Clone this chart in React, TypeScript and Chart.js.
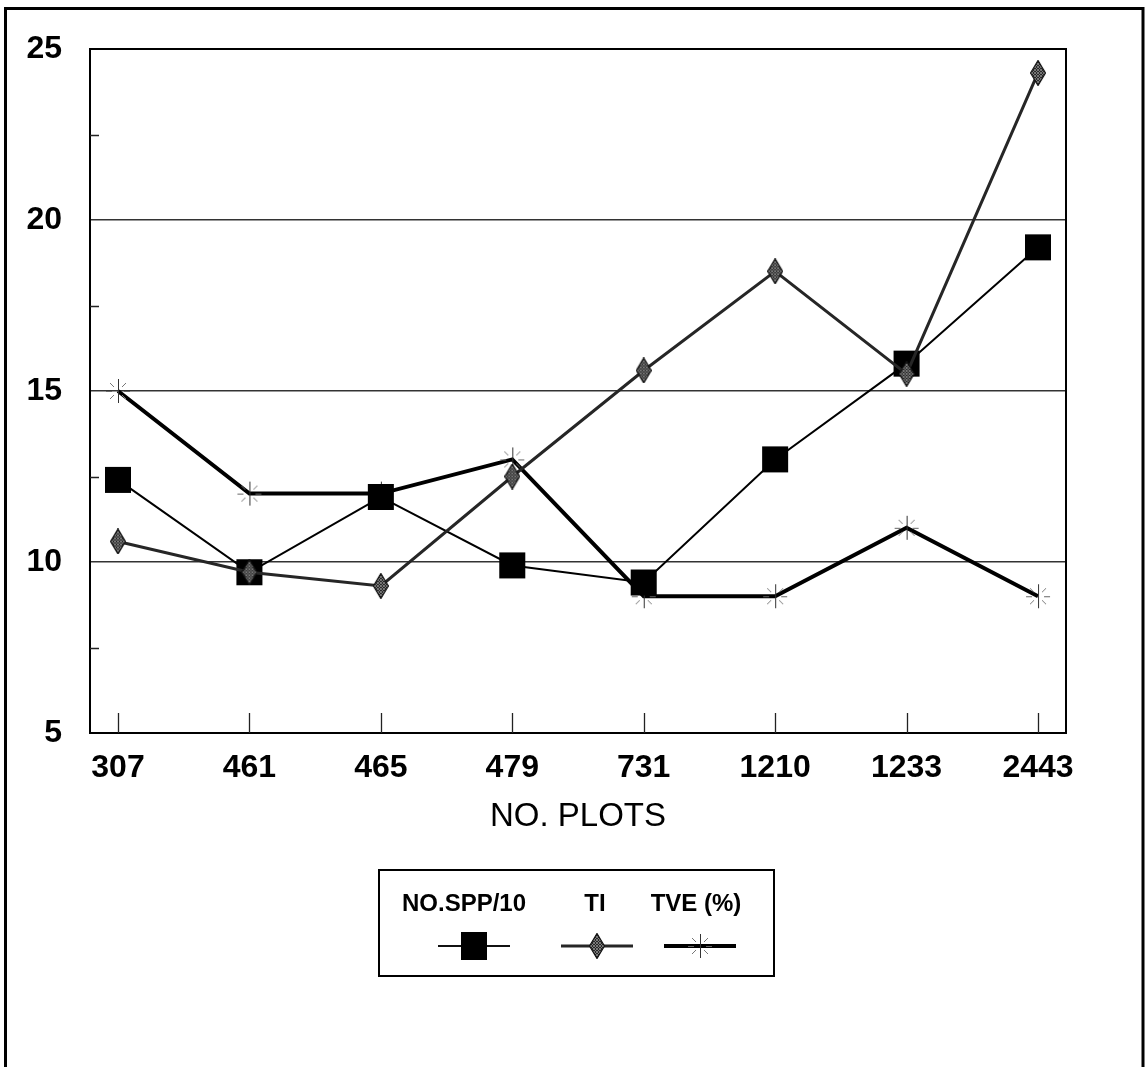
import React, { useEffect, useRef } from 'react';
import { Chart, registerables } from 'chart.js';

Chart.register(...registerables);

const categories = ['307', '461', '465', '479', '731', '1210', '1233', '2443'];
const sppValues = [12.4, 9.7, 11.9, 9.9, 9.4, 13.0, 15.8, 19.2];
const tiValues = [10.6, 9.7, 9.3, 12.5, 15.6, 18.5, 15.5, 24.3];
const tveValues = [15, 12, 12, 13, 9, 9, 11, 9];
const seriesNames = ['NO.SPP/10', 'TI', 'TVE (%)'];
const xTitle = 'NO. PLOTS';
const yMin = 5;
const yMax = 25;
const yMajorStep = 5;
const yMinorTicks = [7.5, 12.5, 17.5, 22.5];

const FONT = "'Liberation Sans', Arial, Helvetica, sans-serif";

function makeDiamond(): HTMLCanvasElement {
  const w = 16;
  const h = 26;
  const c = document.createElement('canvas');
  c.width = w;
  c.height = h;
  const g = c.getContext('2d')!;
  const path = () => {
    g.beginPath();
    g.moveTo(w / 2, 0.5);
    g.lineTo(w - 0.5, h / 2);
    g.lineTo(w / 2, h - 0.5);
    g.lineTo(0.5, h / 2);
    g.closePath();
  };
  path();
  g.fillStyle = '#262626';
  g.fill();
  g.save();
  path();
  g.clip();
  g.strokeStyle = '#8c8c8c';
  g.lineWidth = 0.8;
  for (let i = -h; i < w + h; i += 3) {
    g.beginPath();
    g.moveTo(i, 0);
    g.lineTo(i + h, h);
    g.stroke();
    g.beginPath();
    g.moveTo(i, h);
    g.lineTo(i + h, 0);
    g.stroke();
  }
  g.restore();
  path();
  g.strokeStyle = '#111';
  g.lineWidth = 1.2;
  g.stroke();
  return c;
}

function makeStar(): HTMLCanvasElement {
  const s = 28;
  const c = document.createElement('canvas');
  c.width = s;
  c.height = s;
  const g = c.getContext('2d')!;
  const m = s / 2;
  g.strokeStyle = '#333';
  g.lineWidth = 1;
  g.beginPath();
  g.moveTo(m + 0.5, 2);
  g.lineTo(m + 0.5, s - 2);
  g.stroke();
  g.strokeStyle = '#666';
  g.beginPath();
  g.moveTo(2, m + 0.5);
  g.lineTo(8, m + 0.5);
  g.moveTo(s - 8, m + 0.5);
  g.lineTo(s - 2, m + 0.5);
  g.stroke();
  const dirs = [
    [1, 1],
    [1, -1],
    [-1, 1],
    [-1, -1],
  ];
  g.strokeStyle = '#777';
  for (const [dx, dy] of dirs) {
    g.beginPath();
    g.moveTo(m + dx * 4, m + dy * 4);
    g.lineTo(m + dx * 8, m + dy * 8);
    g.stroke();
  }
  return c;
}

export default function App() {
  const canvasRef = useRef<HTMLCanvasElement | null>(null);

  useEffect(() => {
    const canvas = canvasRef.current;
    if (!canvas) return;
    const diamond = makeDiamond();
    const star = makeStar();

    const decor = {
      id: 'decor',
      beforeDraw(chart: any) {
        const ctx = chart.ctx;
        ctx.save();
        ctx.fillStyle = '#ffffff';
        ctx.fillRect(0, 0, chart.width, chart.height);
        ctx.strokeStyle = '#000';
        ctx.lineWidth = 3;
        ctx.beginPath();
        ctx.moveTo(5.5, chart.height + 5);
        ctx.lineTo(5.5, 8.5);
        ctx.lineTo(1143, 8.5);
        ctx.lineTo(1143, chart.height + 5);
        ctx.stroke();
        ctx.restore();
      },
      beforeDatasetsDraw(chart: any) {
        const ctx = chart.ctx;
        const { left, right, top, bottom } = chart.chartArea;
        const xs = chart.scales.x;
        const ys = chart.scales.y;
        ctx.save();
        ctx.strokeStyle = '#000';
        ctx.lineWidth = 2;
        ctx.beginPath();
        ctx.moveTo(left, top);
        ctx.lineTo(right, top);
        ctx.lineTo(right, bottom);
        ctx.stroke();
        ctx.lineWidth = 1.3;
        ctx.strokeStyle = '#222';
        ctx.beginPath();
        categories.forEach((_, i) => {
          const px = Math.round(xs.getPixelForValue(i)) + 0.5;
          ctx.moveTo(px, bottom);
          ctx.lineTo(px, bottom - 20);
        });
        yMinorTicks.forEach((v) => {
          const py = Math.round(ys.getPixelForValue(v)) + 0.5;
          ctx.moveTo(left, py);
          ctx.lineTo(left + 9, py);
        });
        ctx.stroke();
        ctx.restore();
      },
      afterDraw(chart: any) {
        const ctx = chart.ctx;
        ctx.save();
        ctx.strokeStyle = '#000';
        ctx.lineWidth = 2;
        ctx.strokeRect(379, 870, 395, 106);
        ctx.fillStyle = '#000';
        ctx.font = `bold 24px ${FONT}`;
        ctx.textAlign = 'center';
        ctx.textBaseline = 'middle';
        const centers = [464, 595, 696];
        const sampleCenters = [474, 597, 700];
        seriesNames.forEach((n, i) => ctx.fillText(n, centers[i], 904));
        const ly = 946;
        ctx.strokeStyle = '#111';
        ctx.lineWidth = 2;
        ctx.beginPath();
        ctx.moveTo(sampleCenters[0] - 36, ly);
        ctx.lineTo(sampleCenters[0] + 36, ly);
        ctx.stroke();
        ctx.fillRect(sampleCenters[0] - 13, ly - 14, 26, 28);
        ctx.strokeStyle = '#262626';
        ctx.lineWidth = 3;
        ctx.beginPath();
        ctx.moveTo(sampleCenters[1] - 36, ly);
        ctx.lineTo(sampleCenters[1] + 36, ly);
        ctx.stroke();
        ctx.drawImage(diamond, sampleCenters[1] - diamond.width / 2, ly - diamond.height / 2);
        ctx.strokeStyle = '#000';
        ctx.lineWidth = 4;
        ctx.beginPath();
        ctx.moveTo(sampleCenters[2] - 36, ly);
        ctx.lineTo(sampleCenters[2] + 36, ly);
        ctx.stroke();
        ctx.drawImage(star, sampleCenters[2] - star.width / 2, ly - star.height / 2);
        ctx.restore();
      },
    };

    const toPts = (arr: number[]) => arr.map((y, i) => ({ x: i, y }));

    const chart = new Chart(canvas, {
      type: 'line',
      data: {
        datasets: [
          {
            label: seriesNames[0],
            data: toPts(sppValues),
            borderColor: '#000',
            borderWidth: 2,
            backgroundColor: '#000',
            pointStyle: 'rect',
            pointRadius: 18.4,
            pointBorderWidth: 0,
            pointBackgroundColor: '#000',
            tension: 0,
            order: 1,
          },
          {
            label: seriesNames[1],
            data: toPts(tiValues),
            borderColor: '#262626',
            borderWidth: 3,
            pointStyle: diamond as any,
            pointRadius: 13,
            tension: 0,
            order: 0,
          },
          {
            label: seriesNames[2],
            data: toPts(tveValues),
            borderColor: '#000',
            borderWidth: 4,
            pointStyle: star as any,
            pointRadius: 14,
            tension: 0,
            order: 2,
          },
        ],
      },
      options: {
        responsive: false,
        animation: false,
        layout: { padding: { left: 0, top: 49, right: 79, bottom: 230 } },
        plugins: {
          legend: { display: false },
          tooltip: { enabled: false },
        },
        scales: {
          x: {
            type: 'linear',
            min: -0.213,
            max: 7.213,
            afterFit: (s: any) => {
              s.height = 104;
            },
            ticks: {
              stepSize: 1,
              includeBounds: false,
              autoSkip: false,
              maxRotation: 0,
              padding: 16,
              color: '#000',
              font: { family: FONT, size: 32, weight: 'bold' },
              callback: (v: any) => {
                const i = Math.round(Number(v));
                return Math.abs(Number(v) - i) < 1e-6 && categories[i] !== undefined ? categories[i] : '';
              },
            },
            grid: { display: false, drawTicks: false },
            border: { display: true, color: '#000', width: 2 },
            title: {
              display: true,
              text: xTitle,
              color: '#000',
              font: { family: FONT, size: 33, weight: 'normal' },
              padding: { top: 0, bottom: 0 },
            },
          },
          y: {
            min: yMin,
            max: yMax,
            afterFit: (s: any) => {
              s.width = 90;
            },
            ticks: {
              stepSize: yMajorStep,
              padding: 28,
              color: '#000',
              font: { family: FONT, size: 32, weight: 'bold' },
            },
            grid: {
              drawTicks: false,
              color: (c: any) => {
                const v = c.tick ? c.tick.value : NaN;
                return v === yMin || v === yMax ? 'rgba(0,0,0,0)' : '#333';
              },
              lineWidth: 1.5,
            },
            border: { display: true, color: '#000', width: 2 },
          },
        },
      },
      plugins: [decor],
    });

    return () => chart.destroy();
  }, []);

  return (
    <canvas
      ref={canvasRef}
      width={1145}
      height={1067}
      style={{ position: 'absolute', left: 0, top: 0, display: 'block' }}
    />
  );
}
